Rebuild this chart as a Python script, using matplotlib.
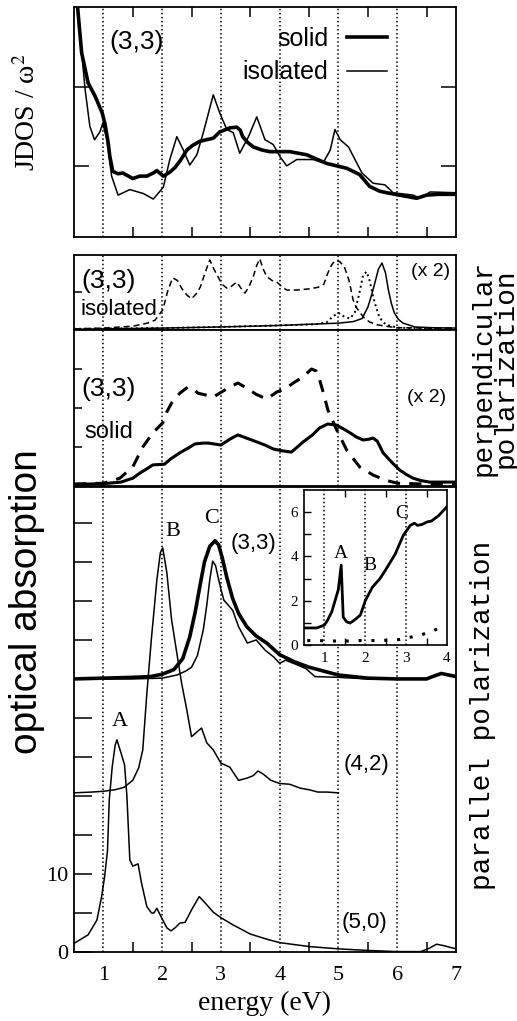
# Optical absorption of small nanotubes - JDOS + perpendicular / parallel spectra
import numpy as np
import matplotlib.pyplot as plt

plt.rcParams['font.family'] = 'Liberation Serif'
plt.rcParams['mathtext.fontset'] = 'stix'

# ---- top panel: JDOS / w^2 for (3,3), solid vs isolated
jdos_solid_e = [0.52, 0.55, 0.63, 0.74, 0.86, 0.98, 1.03, 1.08, 1.11, 1.16, 1.25, 1.33, 1.5, 1.62, 1.74,
                1.85, 1.91, 2.02, 2.13, 2.22, 2.32, 2.42, 2.52, 2.64, 2.75, 2.87, 2.98, 3.15, 3.27,
                3.33, 3.37, 3.45, 3.55, 3.7, 3.83, 4.0, 4.17, 4.46, 4.8, 5.14, 5.36, 5.53, 5.7,
                5.82, 6.04, 6.33, 6.5, 6.7, 7.0]
jdos_solid = [3.3, 3.1, 2.43, 2.05, 1.88, 1.67, 1.52, 1.3, 1.12, 0.93, 0.9, 0.91, 0.84, 0.87, 0.87,
              0.91, 0.94, 0.87, 0.92, 0.98, 1.08, 1.2, 1.26, 1.31, 1.33, 1.35, 1.43, 1.48, 1.49,
              1.45, 1.37, 1.3, 1.24, 1.2, 1.18, 1.18, 1.18, 1.14, 1.03, 0.97, 0.89, 0.74, 0.68,
              0.66, 0.63, 0.59, 0.63, 0.64, 0.64]
jdos_iso_e = [0.53, 0.60, 0.69, 0.77, 0.85, 0.94, 0.99, 1.06, 1.14, 1.25, 1.45, 1.68, 1.85, 2.02, 2.13,
              2.25, 2.36, 2.47, 2.59, 2.70, 2.87, 2.98, 3.10, 3.21, 3.32, 3.47, 3.61, 3.75, 3.89,
              4.01, 4.12, 4.29, 4.57, 4.74, 4.86, 4.94, 5.03, 5.17, 5.40, 5.59, 5.79, 5.93, 6.27,
              6.39, 6.56, 7.0]
jdos_iso = [3.3, 2.68, 1.96, 1.5, 1.33, 1.43, 1.54, 1.33, 0.87, 0.63, 0.7, 0.65, 0.58, 0.73, 1.08,
            1.37, 1.2, 1.01, 1.14, 1.42, 1.9, 1.67, 1.46, 1.42, 1.16, 1.37, 1.62, 1.33, 1.27,
            1.11, 1.0, 1.08, 1.08, 1.04, 1.2, 1.46, 1.33, 1.24, 0.91, 0.78, 0.76, 0.66, 0.63,
            0.59, 0.67, 0.66]

# ---- perpendicular polarization, isolated (3,3)
iso_dash_e = [0.5, 1.0, 1.5, 1.75, 1.88, 2.01, 2.1, 2.18, 2.26, 2.33, 2.42, 2.5, 2.58, 2.65, 2.73,
              2.81, 2.88, 2.95, 3.02, 3.1, 3.18, 3.27, 3.34, 3.41, 3.48, 3.55, 3.61, 3.66, 3.72,
              3.78, 3.87, 3.95, 4.05, 4.12, 4.3, 4.5, 4.65, 4.75, 4.82, 4.88, 4.94, 5.02, 5.1,
              5.18, 5.25, 5.3, 5.36, 5.45, 5.53, 5.65, 5.8, 6.0, 6.5, 7.0]
iso_dash = [0.03, 0.05, 0.1, 0.18, 0.26, 0.53, 1.05, 1.37, 1.3, 1.1, 0.92, 0.82, 0.95, 1.13, 1.5,
            1.84, 1.6, 1.4, 1.2, 1.1, 1.15, 1.26, 1.1, 0.97, 1.15, 1.4, 1.7, 1.87, 1.6,
            1.4, 1.3, 1.26, 1.12, 1.05, 1.05, 1.08, 1.12, 1.2, 1.5, 1.7, 1.82, 1.8, 1.66,
            1.3, 0.79, 0.6, 0.47, 0.3, 0.21, 0.14, 0.1, 0.06, 0.05, 0.05]
iso_dot_e = [0.5, 2.0, 3.0, 4.0, 4.6, 4.8, 4.9, 5.0, 5.1, 5.2, 5.28, 5.36, 5.42, 5.48, 5.53, 5.59,
             5.65, 5.7, 5.8, 6.0, 6.5, 7.0]
iso_dot = [0.03, 0.05, 0.08, 0.12, 0.15, 0.2, 0.35, 0.45, 0.35, 0.3, 0.47, 1.0, 1.45, 1.53, 1.3, 0.87,
           0.55, 0.32, 0.15, 0.06, 0.04, 0.04]
iso_line_e = [0.5, 2.0, 3.0, 4.0, 4.5, 5.0, 5.25, 5.4, 5.5, 5.56, 5.62, 5.68, 5.74, 5.8, 5.85, 5.9,
              5.95, 6.02, 6.1, 6.3, 6.6, 7.0]
iso_line = [0.02, 0.05, 0.08, 0.12, 0.15, 0.18, 0.22, 0.3, 0.6, 0.9, 1.24, 1.6, 1.76, 1.5, 1.05, 0.7,
            0.45, 0.28, 0.18, 0.08, 0.06, 0.05]

# ---- perpendicular polarization, solid (3,3)
sol_dash_e = [0.5, 1.0, 1.28, 1.5, 1.67, 1.84, 2.01, 2.08, 2.16, 2.3, 2.44, 2.52, 2.61, 2.75, 2.87,
              3.0, 3.15, 3.29, 3.45, 3.6, 3.78, 3.95, 4.1, 4.23, 4.4, 4.54, 4.62, 4.68, 4.75,
              4.82, 4.97, 5.14, 5.36, 5.59, 5.8, 6.0, 6.5, 7.0]
sol_dash = [0.05, 0.07, 0.2, 0.49, 1.0, 1.36, 1.62, 1.9, 2.13, 2.38, 2.54, 2.5, 2.38, 2.33, 2.28,
            2.4, 2.54, 2.64, 2.5, 2.35, 2.23, 2.41, 2.5, 2.64, 2.8, 3.0, 2.95, 2.72, 2.35,
            1.95, 1.44, 0.92, 0.49, 0.28, 0.15, 0.07, 0.05, 0.05]
sol_line_e = [0.5, 1.0, 1.3, 1.5, 1.62, 1.75, 1.84, 2.04, 2.15, 2.3, 2.45, 2.56, 2.7, 2.79, 3.0,
              3.15, 3.29, 3.45, 3.61, 3.75, 3.89, 4.05, 4.2, 4.4, 4.55, 4.68, 4.82, 4.97, 5.1,
              5.2, 5.3, 5.42, 5.52, 5.59, 5.66, 5.76, 5.9, 6.04, 6.15, 6.27, 6.4, 6.55, 7.0]
sol_line = [0.04, 0.06, 0.1, 0.2, 0.33, 0.45, 0.54, 0.56, 0.7, 0.85, 0.98, 1.08, 1.1, 1.1, 1.05,
            1.2, 1.31, 1.22, 1.13, 1.05, 0.95, 0.9, 0.87, 1.13, 1.3, 1.49, 1.59, 1.56, 1.45,
            1.36, 1.26, 1.18, 1.2, 1.23, 1.15, 0.85, 0.62, 0.41, 0.3, 0.2, 0.14, 0.1, 0.1]

# ---- parallel polarization (offset curves)
t33s_e = [0.5, 1.0, 1.5, 1.8, 2.0, 2.2, 2.35, 2.47, 2.56, 2.64, 2.72, 2.81, 2.9, 2.96, 3.02, 3.1,
          3.2, 3.3, 3.44, 3.6, 3.78, 4.0, 4.25, 4.5, 5.0, 5.5, 6.0, 6.5, 6.6, 6.75, 7.0]
t33s = [35.0, 35.1, 35.2, 35.3, 35.6, 36.2, 37.6, 40.4, 43.5, 46.8, 50.0, 52.0, 52.7, 52.2, 50.6, 48.0,
        45.3, 43.4, 41.7, 40.5, 39.6, 38.1, 37.2, 36.5, 35.5, 35.1, 35.0, 35.0, 35.3, 35.7, 35.3]
t33i_e = [0.5, 1.5, 2.0, 2.25, 2.4, 2.5, 2.6, 2.7, 2.76, 2.81, 2.86, 2.91, 2.95, 3.0, 3.05, 3.12,
          3.2, 3.3, 3.45, 3.6, 3.75, 3.9, 4.0, 4.1, 4.3, 4.45, 4.6, 5.0, 5.5, 6.5, 6.6, 6.75, 7.0]
t33i = [35.0, 35.0, 35.1, 35.5, 36.0, 36.5, 38.0, 41.3, 44.5, 47.7, 50.1, 49.5, 48.1, 46.5, 45.1, 44.5,
        43.8, 41.7, 39.6, 40.0, 38.7, 37.8, 37.0, 37.4, 36.8, 36.3, 35.3, 35.2, 35.0, 35.0, 35.3, 35.7, 35.4]
t42_e = [0.5, 0.8, 1.0, 1.2, 1.35, 1.5, 1.6, 1.67, 1.74, 1.82, 1.91, 1.97, 2.01, 2.08, 2.16, 2.25,
         2.33, 2.42, 2.5, 2.59, 2.67, 2.76, 2.87, 3.0, 3.15, 3.3, 3.45, 3.55, 3.63, 3.72, 3.85,
         4.0, 4.17, 4.35, 4.5, 4.65, 4.8, 5.0]
t42 = [20.4, 20.5, 20.6, 20.8, 21.1, 22.0, 23.6, 25.9, 33.2, 40.4, 47.7, 51.2, 51.8, 48.6, 42.6, 38.3,
       34.5, 31.0, 27.6, 28.2, 28.7, 26.8, 25.9, 24.2, 23.7, 22.0, 22.3, 22.6, 23.2, 22.8, 22.0,
       21.6, 21.5, 21.0, 20.8, 20.5, 20.5, 20.4]
t50_e = [0.5, 0.74, 0.89, 0.97, 1.02, 1.07, 1.1, 1.15, 1.2, 1.23, 1.3, 1.36, 1.4, 1.45, 1.5, 1.59,
         1.65, 1.74, 1.82, 1.86, 1.91, 2.01, 2.08, 2.15, 2.22, 2.3, 2.39, 2.5, 2.63, 2.73, 2.87,
         3.0, 3.2, 3.5, 3.8, 4.0, 4.5, 5.0, 5.5, 6.0, 6.4, 6.55, 6.67, 6.8, 7.0]
t50 = [1.1, 2.2, 4.1, 7.1, 9.6, 13.0, 19.5, 23.7, 26.5, 27.2, 25.5, 24.0, 20.0, 11.8, 11.0, 11.3,
       8.8, 5.8, 5.0, 5.0, 5.6, 4.1, 3.1, 2.7, 3.1, 3.7, 3.8, 5.4, 7.1, 6.3, 5.1,
       4.4, 3.5, 2.3, 1.6, 1.2, 0.7, 0.4, 0.2, 0.05, 0.05, 0.5, 1.0, 0.8, 0.4]

# ---- inset
ins_e = [0.5, 0.81, 1.0, 1.08, 1.18, 1.26, 1.34, 1.41, 1.46, 1.54, 1.63, 1.75, 1.88, 2.0, 2.17,
         2.36, 2.5, 2.73, 2.93, 3.1, 3.2, 3.28, 3.4, 3.5, 3.62, 3.8, 4.0]
ins_val = [0.77, 0.77, 0.9, 1.13, 1.5, 2.0, 2.5, 3.6, 1.26, 1.05, 0.99, 1.15, 1.35, 2.0, 2.6,
           3.0, 3.4, 4.1, 4.95, 5.4, 5.5, 5.4, 5.45, 5.55, 5.6, 5.85, 6.25]
ins_dot_e = [0.58, 0.85, 1.1, 1.35, 1.6, 1.85, 2.1, 2.35, 2.6, 2.85, 3.1, 3.35, 3.6, 3.8, 3.95]
ins_dot = [0.2, 0.2, 0.18, 0.18, 0.18, 0.2, 0.2, 0.2, 0.22, 0.25, 0.35, 0.45, 0.6, 0.75, 0.95]

W, H = 517.0, 1021.0
def box(l, t, r, b):
    return [l / W, 1 - b / H, (r - l) / W, (b - t) / H]

fig = plt.figure(figsize=(W / 100, H / 100), dpi=100)
ax1 = fig.add_axes(box(74, 7, 456, 237))
ax2 = fig.add_axes(box(74, 255, 456, 330))
ax3 = fig.add_axes(box(74, 330, 456, 486))
ax4 = fig.add_axes(box(74, 487, 456, 952))
axi = fig.add_axes(box(304, 490, 447, 645), zorder=5)

sans = 'Liberation Sans'
serif = 'Liberation Serif'
mono = 'Liberation Mono'
halves = np.arange(1.5, 7.0, 1.0)

for ax in (ax1, ax2, ax3, ax4):
    ax.set_xlim(0.5, 7.0)
    for s in ax.spines.values():
        s.set_linewidth(1.3)
    for e in range(1, 7):
        ax.axvline(e, color='k', ls=':', lw=1.1, zorder=0)
    ax.set_xticks([])
    ax.tick_params(axis='y', direction='in', width=1.1)

# top panel
ax1.plot(jdos_solid_e, jdos_solid, color='k', lw=2.6, label='solid')
ax1.plot(jdos_iso_e, jdos_iso, color='k', lw=1.1, label='isolated')
ax1.set_ylim(0.1, 3.01)
ax1.set_yticks([1, 2])
ax1.set_yticklabels([])
ax1.tick_params(axis='y', length=11, right=True)
ax1.set_xticks(halves, minor=True)
ax1.tick_params(axis='x', which='minor', direction='in', length=7, width=1.1, top=True)
ax1.text(1.57, 2.57, '(3,3)', family=sans, fontsize=19, ha='center', va='center')
ax1.legend(loc='upper right', bbox_to_anchor=(0.866, 0.99), frameon=False, markerfirst=False,
           prop={'family': sans, 'size': 18}, handlelength=1.6, handletextpad=0.75,
           labelspacing=0.38, borderpad=0.2)

# isolated perpendicular
ax2.plot(iso_dash_e, iso_dash, color='k', lw=1.1, dashes=(4, 2.5))
ax2.plot(iso_dot_e, iso_dot, color='k', lw=1.4, ls=':')
ax2.plot(iso_line_e, iso_line, color='k', lw=1.1)
ax2.set_ylim(0, 1.97)
ax2.set_yticks([1])
ax2.set_yticklabels([])
ax2.tick_params(axis='y', length=6)
ax2.text(1.08, 1.3, '(3,3)', family=sans, fontsize=19, ha='center', va='center')
ax2.text(1.26, 0.53, 'isolated', family=sans, fontsize=16, ha='center', va='center')
ax2.text(6.57, 1.53, '(x 2)', family=sans, fontsize=14, ha='center', va='center')

# solid perpendicular
ax3.plot(sol_dash_e, sol_dash, color='k', lw=2.2, dashes=(4, 3))
ax3.plot(sol_line_e, sol_line, color='k', lw=2.2)
ax3.set_ylim(0, 4.0)
ax3.set_yticks([1, 2, 3])
ax3.set_yticklabels([])
ax3.tick_params(axis='y', length=6)
ax3.text(1.08, 2.5, '(3,3)', family=sans, fontsize=19, ha='center', va='center')
ax3.text(1.1, 1.38, 'solid', family=sans, fontsize=17, ha='center', va='center')
ax3.text(6.5, 2.28, '(x 2)', family=sans, fontsize=14, ha='center', va='center')

# parallel
ax4.plot(t33s_e, t33s, color='k', lw=2.6)
ax4.plot(t33i_e, t33i, color='k', lw=1.1)
ax4.plot(t42_e, t42, color='k', lw=1.1)
ax4.plot(t50_e, t50, color='k', lw=1.1)
ax4.set_ylim(0, 59.6)
ax4.set_yticks(np.arange(0, 56, 5))
ax4.set_yticklabels(['0', '', '10'] + [''] * 9, family=serif, fontsize=16)
ax4.tick_params(axis='y', length=13, pad=4)
ax4.set_xticks(range(1, 8))
ax4.set_xticklabels([str(i) for i in range(1, 8)], family=serif, fontsize=16)
ax4.tick_params(axis='x', which='major', length=0, pad=10)
ax4.set_xticks(halves, minor=True)
ax4.tick_params(axis='x', which='minor', direction='in', length=7, width=1.1)
ax4.text(1.28, 29.6, 'A', family=serif, fontsize=16, ha='center', va='center')
ax4.text(2.18, 53.9, 'B', family=serif, fontsize=16, ha='center', va='center')
ax4.text(2.84, 55.6, 'C', family=serif, fontsize=16, ha='center', va='center')
ax4.text(3.55, 52.4, '(3,3)', family=sans, fontsize=16, ha='center', va='center')
ax4.text(5.48, 24.0, '(4,2)', family=sans, fontsize=16, ha='center', va='center')
ax4.text(5.45, 3.8, '(5,0)', family=sans, fontsize=16, ha='center', va='center')

# inset
axi.plot(ins_e, ins_val, color='k', lw=2.0)
axi.plot(ins_dot_e, ins_dot, color='k', lw=2.2, ls=(0, (1, 3.2)))
axi.set_xlim(0.5, 4.0)
axi.set_ylim(0, 7.0)
for e in (1, 2, 3):
    axi.axvline(e, color='k', ls=':', lw=1.1, zorder=0)
for s in axi.spines.values():
    s.set_linewidth(1.2)
axi.set_xticks([1, 2, 3, 4])
axi.set_xticklabels(['1', '2', '3', '4'], family=serif, fontsize=11)
axi.tick_params(axis='x', which='major', length=0, pad=5)
axi.set_xticks([1.5, 2.5, 3.5], minor=True)
axi.tick_params(axis='x', which='minor', direction='in', length=5, width=1.0, top=True)
axi.set_yticks([0, 2, 4, 6])
axi.set_yticklabels(['0', '2', '4', '6'], family=serif, fontsize=11)
axi.set_yticks([1, 3, 5], minor=True)
axi.tick_params(axis='y', which='both', direction='in', length=5, width=1.0, pad=4)
axi.text(1.4, 4.15, 'A', family=serif, fontsize=14, ha='center', va='center')
axi.text(2.12, 3.6, 'B', family=serif, fontsize=14, ha='center', va='center')
axi.text(2.9, 5.95, 'C', family=serif, fontsize=14, ha='center', va='center')

# outer labels
fig.text(28 / W, 1 - 112 / H, 'JDOS / ω$^2$', family=serif, fontsize=20,
         rotation=90, ha='center', va='center')
fig.text(27 / W, 1 - 602 / H, 'optical absorption', family=sans, fontsize=28,
         rotation=90, ha='center', va='center')
fig.text(265 / W, 1 - 1003 / H, 'energy (eV)', family=serif, fontsize=20,
         ha='center', va='center')
fig.text(495 / W, 1 - 368 / H, 'perpendicular\npolarization', family=mono, fontsize=20,
         rotation=90, ha='center', va='center', multialignment='center', linespacing=0.8)
fig.text(483 / W, 1 - 715 / H, 'parallel polarization', family=mono, fontsize=20,
         rotation=90, ha='center', va='center')

fig.savefig('out.png', dpi=100)
